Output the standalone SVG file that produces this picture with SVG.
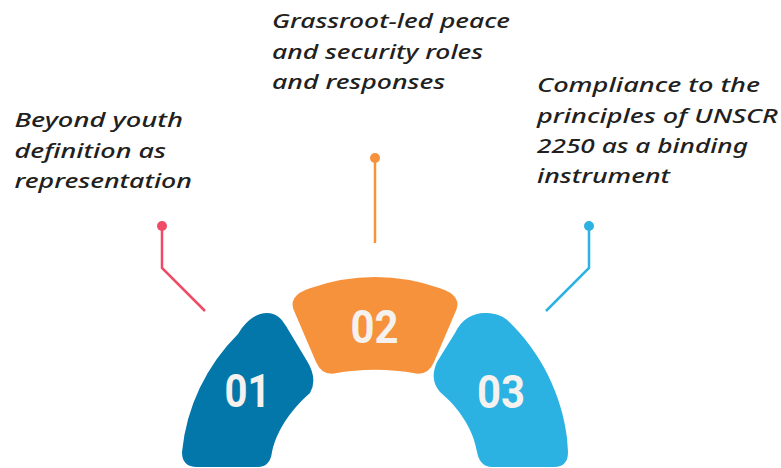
<svg xmlns="http://www.w3.org/2000/svg" width="781" height="468" viewBox="0 0 781 468">
<style>
.lbl{font-family:"Noto Sans","Open Sans","DejaVu Sans",sans-serif;font-style:italic;font-weight:500;font-size:20px;fill:#231f20}
.num{font-family:Roboto,"Liberation Sans",sans-serif;font-weight:700;font-size:46px;fill:#f4f1ef;text-anchor:middle}
.ln{fill:none;stroke-width:2.5;stroke-linejoin:miter}
</style>
<rect width="781" height="468" fill="#ffffff"/>
<g id="connectors">
<polyline class="ln" stroke="#ef4a66" points="162,226 162,268 205,311"/>
<circle cx="162" cy="226" r="5" fill="#ef4a66"/>
<line class="ln" stroke="#f7923c" x1="375" y1="158" x2="375" y2="243"/>
<circle cx="375" cy="158" r="5" fill="#f7923c"/>
<polyline class="ln" stroke="#2cb2e2" points="589,226 589,268 546,311"/>
<circle cx="589" cy="226" r="5" fill="#2cb2e2"/>
</g>
<g id="node-01">
<path fill="#0377a9" d="M 182 452 A 193 193 0 0 1 238 334 C 245 322 255 313 267 313 C 276 313 281 318 286 326 L 307 361 Q 318 379 310 393 C 294 407 277 428 272 452 Q 270 467 258 467 L 197 467 Q 182 467 182 452 Z"/>
<text class="num" x="247.5" y="407.3" textLength="46" lengthAdjust="spacingAndGlyphs">01</text>
</g>
<g id="node-02">
<path fill="#f7923c" d="M 310 288.3 A 193 193 0 0 1 440 288.3 Q 464 296 455 313 L 434 362 Q 428.5 375 416 373.5 Q 375 366 334 373.5 Q 321.5 375 316 362 L 295 313 Q 286 296 310 288.3 Z"/>
<text class="num" x="374.5" y="343.3" textLength="48" lengthAdjust="spacingAndGlyphs">02</text>
</g>
<g id="node-03">
<path fill="#2cb2e2" d="M 455 333 C 462 318 475 312 487 313 C 496 313.5 502 316 506 319 C 540 350 562 395 567 438 L 568 452 Q 568 467 554 467 L 492 467 Q 480 467 477 452 C 473 428 458 407 440 392 Q 429 380 437 362 Z"/>
<text class="num" x="501" y="408.3" textLength="48" lengthAdjust="spacingAndGlyphs">03</text>
</g>
<g id="label-01">
<text class="lbl" x="14.5" y="127" textLength="168.5" lengthAdjust="spacingAndGlyphs">Beyond youth</text>
<text class="lbl" x="14.5" y="157.5" textLength="151.5" lengthAdjust="spacingAndGlyphs">definition as</text>
<text class="lbl" x="14.5" y="188" textLength="177.5" lengthAdjust="spacingAndGlyphs">representation</text>
</g>
<g id="label-02">
<text class="lbl" x="272" y="28.3" textLength="238" lengthAdjust="spacingAndGlyphs">Grassroot-led peace</text>
<text class="lbl" x="272" y="58.5" textLength="211" lengthAdjust="spacingAndGlyphs">and security roles</text>
<text class="lbl" x="272" y="89" textLength="173" lengthAdjust="spacingAndGlyphs">and responses</text>
</g>
<g id="label-03">
<text class="lbl" x="537" y="92.3" textLength="223" lengthAdjust="spacingAndGlyphs">Compliance to the</text>
<text class="lbl" x="537" y="122.5" textLength="241" lengthAdjust="spacingAndGlyphs">principles of UNSCR</text>
<text class="lbl" x="537" y="152.5" textLength="211" lengthAdjust="spacingAndGlyphs">2250 as a binding</text>
<text class="lbl" x="537" y="182.5" textLength="133" lengthAdjust="spacingAndGlyphs">instrument</text>
</g>
</svg>
